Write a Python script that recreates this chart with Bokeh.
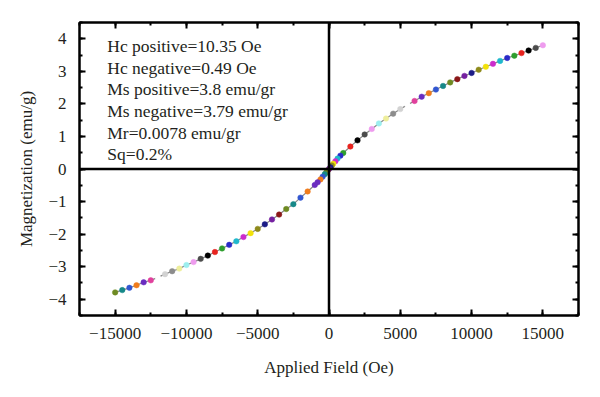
from bokeh.plotting import figure
from bokeh.models import (LinearAxis, Span, ColumnDataSource, CustomJSTickFormatter,
                          SingleIntervalTicker, Range1d)
from bokeh.embed import file_html
from bokeh.resources import INLINE
from bokeh.core.properties import value

# ---- data ----
field_pos = [15000, 14500, 14000, 13500, 13000, 12500, 12000, 11500, 11000, 10500,
             10000, 9500, 9000, 8500, 8000, 7500, 7000, 6500, 6000, 5500,
             5000, 4500, 4000, 3500, 3000, 2500, 2000, 1500, 1000]
mag_pos = [3.80, 3.72, 3.64, 3.56, 3.48, 3.41, 3.32, 3.23, 3.14, 3.05,
           2.95, 2.86, 2.76, 2.66, 2.55, 2.44, 2.33, 2.22, 2.09, 1.97,
           1.84, 1.70, 1.55, 1.40, 1.23, 1.06, 0.88, 0.69, 0.49]
field_mid = [800, 600, 450, 300, 200, 100, 0, -100, -200, -300, -450, -600, -800]
mag_mid = [0.41, 0.32, 0.24, 0.16, 0.11, 0.05, 0.0, -0.05, -0.11, -0.16, -0.24, -0.32, -0.41]
field_neg = [-15000, -14500, -14000, -13500, -13000, -12500, -12000, -11500, -11000, -10500,
             -10000, -9500, -9000, -8500, -8000, -7500, -7000, -6500, -6000, -5500,
             -5000, -4500, -4000, -3500, -3000, -2500, -2000, -1500, -1000]
mag_neg = [-3.79, -3.72, -3.65, -3.57, -3.48, -3.42, -3.33, -3.23, -3.14, -3.06,
           -2.95, -2.86, -2.76, -2.66, -2.55, -2.44, -2.33, -2.22, -2.09, -1.97,
           -1.84, -1.70, -1.55, -1.40, -1.23, -1.08, -0.88, -0.69, -0.49]

info_lines = ["Hc positive=10.35 Oe", "Hc negative=0.49 Oe", "Ms positive=3.8 emu/gr",
              "Ms negative=3.79 emu/gr", "Mr=0.0078 emu/gr", "Sq=0.2%"]

palette = ["#000000", "#e8231f", "#2e9e2e", "#2a2ac8", "#20b8cc", "#cc2ccc", "#f2e20a",
           "#8e8a1c", "#1c1c86", "#7420a0", "#8a1818", "#6e8a22", "#168888", "#3256d0",
           "#f07c1c", "#6a2cc0", "#e0409c", "#ffffff", "#d2d2d2", "#8c8c8c", "#eeee9c",
           "#9ceeee", "#ee9cee", "#4c4c4c"]

H_down = field_pos + field_mid
M_down = mag_pos + mag_mid
c_down = [palette[(i + 22) % len(palette)] for i in range(len(H_down))]
c_up = [palette[(i + 11) % len(palette)] for i in range(len(field_neg))]

line_src = ColumnDataSource(dict(H=H_down + field_neg[::-1], M=M_down + mag_neg[::-1]))
src_down = ColumnDataSource(dict(H=H_down, M=M_down, c=c_down))
src_up = ColumnDataSource(dict(H=field_neg, M=mag_neg, c=c_up))

FONT = "Liberation Serif"
TXT = "#231f20"

p = figure(width=584, height=381, output_backend="svg", toolbar_location=None,
           x_range=Range1d(-17500, 17500), y_range=Range1d(-4.5, 4.5),
           min_border_left=79, min_border_right=6, min_border_top=22, min_border_bottom=66,
           x_axis_label="Applied Field (Oe)", y_axis_label="Magnetization (emu/g)")
p.grid.visible = False
p.outline_line_color = "black"
p.outline_line_width = 2
p.background_fill_color = "white"
p.border_fill_color = "white"

bottom = p.below[0]
left = p.left[0]

fmt = CustomJSTickFormatter(code="return tick < 0 ? '\\u2212' + Math.abs(tick) : String(tick);")
blank = CustomJSTickFormatter(code="return '';")

bottom.ticker = SingleIntervalTicker(interval=5000, num_minor_ticks=2)
left.ticker = SingleIntervalTicker(interval=1, num_minor_ticks=2)
bottom.formatter = fmt
left.formatter = fmt

top = LinearAxis(ticker=SingleIntervalTicker(interval=5000, num_minor_ticks=2),
                 formatter=blank, major_label_standoff=0)
right = LinearAxis(ticker=SingleIntervalTicker(interval=1, num_minor_ticks=2),
                   formatter=blank, major_label_standoff=0)
p.add_layout(top, "above")
p.add_layout(right, "right")

for ax in [bottom, left, top, right]:
    ax.axis_line_color = "black"
    ax.axis_line_width = 2
    ax.major_tick_in = 6
    ax.major_tick_out = 0
    ax.minor_tick_in = 3
    ax.minor_tick_out = 0
    ax.major_tick_line_width = 2
    ax.minor_tick_line_width = 2
    ax.major_tick_line_color = "black"
    ax.minor_tick_line_color = "black"
    ax.major_label_text_font = FONT
    ax.major_label_text_color = TXT
    ax.major_label_text_font_size = "17px"
    ax.axis_label_text_font = FONT
    ax.axis_label_text_font_style = "normal"
    ax.axis_label_text_color = TXT
    ax.axis_label_text_font_size = "17px"

bottom.major_label_standoff = 12
bottom.axis_label_standoff = 16
left.major_label_standoff = 13
left.axis_label_standoff = 9

p.add_layout(Span(location=0, dimension="width", line_color="black", line_width=2.5))
p.add_layout(Span(location=0, dimension="height", line_color="black", line_width=2.5))

p.line("H", "M", source=line_src, line_color="#888888", line_width=1.2)
p.scatter("H", "M", source=src_down, size=5.5, fill_color="c", line_color="c", line_width=0.5)
p.scatter("H", "M", source=src_up, size=5.5, fill_color="c", line_color="c", line_width=0.5)

# info text block
tx0 = -15550
ty0 = 3.78
step = 0.665
p.text(x=[tx0] * len(info_lines), y=[ty0 - i * step for i in range(len(info_lines))],
       text=info_lines, text_font=value(FONT), text_font_size="17.5px",
       text_color=TXT, text_baseline="middle", text_align="left")

open("out.html", "w").write(file_html(p, INLINE))
